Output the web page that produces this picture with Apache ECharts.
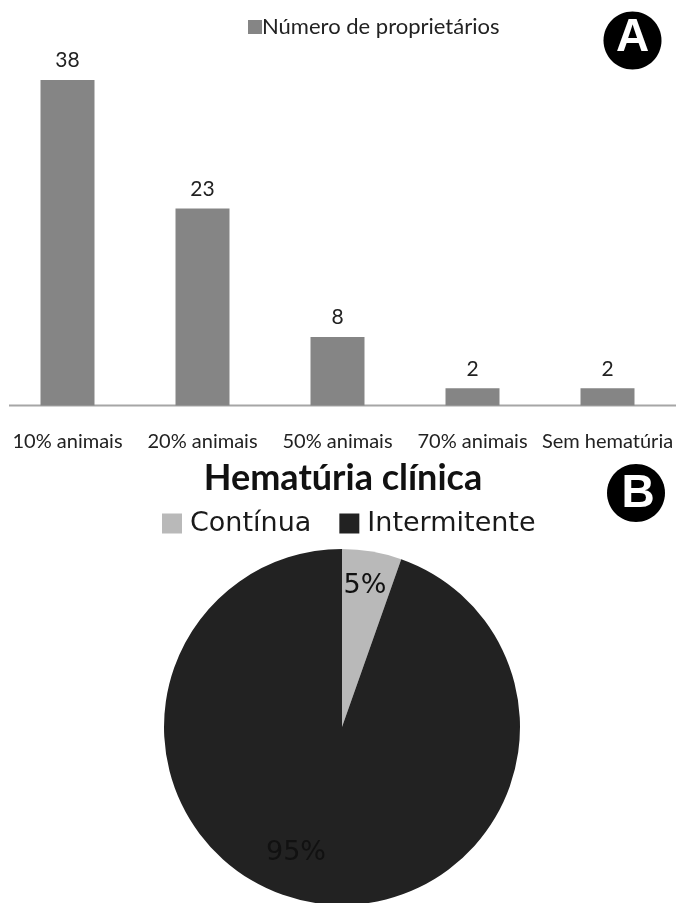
<!DOCTYPE html>
<html>
<head>
<meta charset="utf-8">
<title>Hematúria</title>
<style>
  html, body { margin: 0; padding: 0; background: #fff; }
  #chart { width: 678px; height: 903px; }
</style>
<script src="https://cdn.jsdelivr.net/npm/echarts@6/dist/echarts.min.js"></script>
</head>
<body>
<div id="chart"></div>
<script>
const barCategories = ["10% animais", "20% animais", "50% animais", "70% animais", "Sem hematúria"];
const barValues = [38, 23, 8, 2, 2];
const barSeriesName = "Número de proprietários";
const pieNames = ["Contínua", "Intermitente"];
// a fatia desenhada é um pouco maior que 5%, o rótulo arredonda
const pieValues = [5.4, 94.6];
const pieTitle = "Hematúria clínica";

const textFont = "Lato, 'Open Sans', sans-serif";
const pieFont = "'DejaVu Sans', sans-serif";

const chart = echarts.init(document.getElementById("chart"), null, { renderer: "canvas" });

// posição dos rótulos da pizza
const pieLabelPos = [
  { x: 365, y: 586 },
  { x: 296, y: 853 },
];

const option = {
  animation: false,
  backgroundColor: "#fff",
  title: {
    text: pieTitle,
    left: 338,
    top: 455,
    textAlign: "center",
    textStyle: { fontFamily: textFont, fontSize: 36, fontWeight: "bold", color: "#111" },
  },
  legend: [
    {
      data: [barSeriesName],
      left: 243,
      top: 11,
      itemWidth: 14,
      itemHeight: 14,
      itemGap: 5,
      icon: "rect",
      textStyle: { fontFamily: textFont, fontSize: 22, color: "#222", padding: [0, 0, 0, -5] },
    },
    {
      data: pieNames,
      left: 157,
      top: 505,
      itemWidth: 20,
      itemHeight: 20,
      itemGap: 28,
      icon: "rect",
      textStyle: { fontFamily: pieFont, fontSize: 27, color: "#1a1a1a", padding: [0, 0, 0, 3] },
    },
  ],
  grid: { left: 0, width: 675, top: 80, height: 325.5, outerBoundsMode: "none" },
  xAxis: {
    type: "category",
    data: barCategories,
    axisLine: { show: false },
    axisTick: { show: false },
    axisLabel: {
      margin: 26,
      interval: 0,
      fontFamily: textFont,
      fontSize: 20,
      color: "#222",
    },
  },
  yAxis: { type: "value", min: 0, max: 38, show: false },
  series: [
    {
      name: barSeriesName,
      type: "bar",
      data: barValues,
      barWidth: 54,
      itemStyle: { color: "#858585" },
      label: {
        show: true,
        position: "top",
        distance: 9,
        fontFamily: textFont,
        fontSize: 21,
        color: "#222",
      },
    },
    {
      type: "pie",
      center: [342, 727],
      radius: 178,
      startAngle: 90,
      clockwise: true,
      data: pieNames.map((name, i) => ({ name, value: pieValues[i] })),
      color: ["#b9b9b9", "#222222"],
      label: {
        show: true,
        position: "inside",
        formatter: (p) => Math.round(p.value) + "%",
        fontFamily: pieFont,
        fontSize: 27,
        color: "#111",
      },
      labelLine: { show: false },
      labelLayout: (p) => ({ x: pieLabelPos[p.dataIndex].x, y: pieLabelPos[p.dataIndex].y, align: "center", verticalAlign: "middle" }),
    },
  ],
  graphic: [
    {
      type: "line",
      shape: { x1: 9, y1: 405.5, x2: 676, y2: 405.5 },
      style: { stroke: "#a6a6a6", lineWidth: 2 },
    },
    {
      type: "ellipse",
      shape: { cx: 632.5, cy: 40.5, rx: 29, ry: 29 },
      style: { fill: "#000" },
    },
    {
      type: "text",
      x: 632.5,
      y: 38,
      style: { text: "A", fill: "#fff", font: "bold 46px 'Liberation Sans', Arial, sans-serif", textAlign: "center", textVerticalAlign: "middle" },
    },
    {
      type: "ellipse",
      shape: { cx: 636, cy: 493, rx: 29, ry: 29 },
      style: { fill: "#000" },
    },
    {
      type: "text",
      x: 638,
      y: 494,
      style: { text: "B", fill: "#fff", font: "bold 46px 'Liberation Sans', Arial, sans-serif", textAlign: "center", textVerticalAlign: "middle" },
    },
  ],
};

chart.setOption(option);
window.addEventListener("resize", () => chart.resize());
</script>
</body>
</html>
